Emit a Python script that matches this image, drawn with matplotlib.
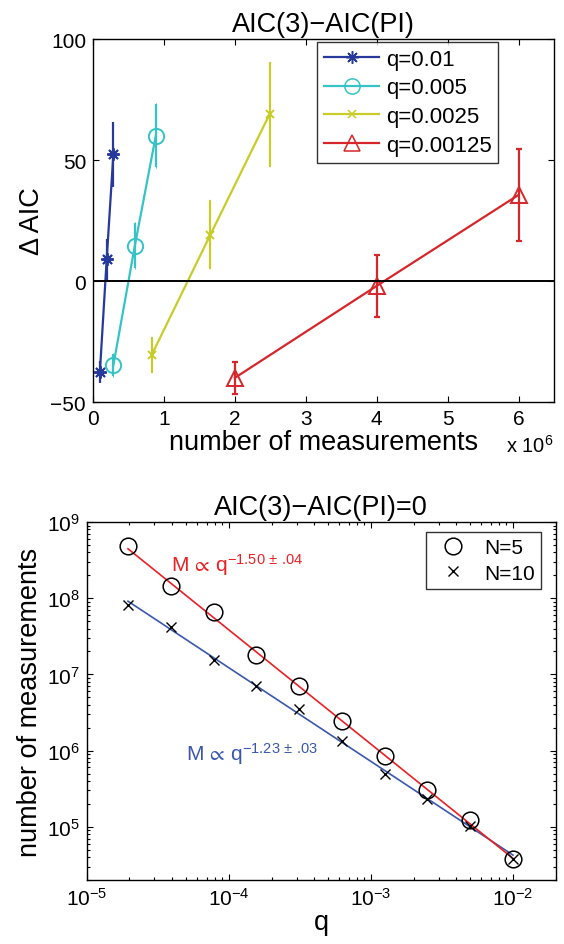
import numpy as np
import matplotlib
matplotlib.use("Agg")
import matplotlib.pyplot as plt
from matplotlib.lines import Line2D

plt.rcParams['font.family'] = ['Liberation Sans', 'DejaVu Sans']
plt.rcParams['mathtext.fontset'] = 'custom'
plt.rcParams['mathtext.rm'] = 'Liberation Sans'
plt.rcParams['mathtext.it'] = 'Liberation Sans:italic'
plt.rcParams['mathtext.fallback'] = 'stixsans'

# top panel: delta AIC vs number of measurements (x in units of 1e6)
q_labels = ['q=0.01', 'q=0.005', 'q=0.0025', 'q=0.00125']
meas_01 = [0.097, 0.193, 0.287]
daic_01 = [-37.6, 9.0, 52.3]
err_01 = [4.7, 8.5, 13.4]
meas_005 = [0.287, 0.59, 0.885]
daic_005 = [-34.8, 14.6, 60.0]
err_005 = [4.5, 9.2, 13.0]
meas_0025 = [0.828, 1.656, 2.489]
daic_0025 = [-30.5, 19.2, 68.9]
err_0025 = [7.0, 14.0, 21.3]
meas_00125 = [2.0, 4.0, 6.0]
daic_00125 = [-40.0, -2.0, 35.6]
err_00125 = [6.6, 12.8, 19.0]

# bottom panel: crossing point AIC(3)=AIC(PI)
q_vals = [0.01 / 2**k for k in range(10)]
m_n5 = [3.76e4, 1.24e5, 3.07e5, 8.4e5, 2.43e6, 7.1e6, 1.78e7, 6.6e7, 1.44e8, 4.9e8]
m_n10 = [3.76e4, 1.03e5, 2.31e5, 4.98e5, 1.33e6, 3.47e6, 7.1e6, 1.56e7, 4.24e7, 8.1e7]
fit_exp = [-1.50, -1.23]
fit_err = ['04', '03']
fit_at_001 = [3.85e4, 4.25e4]

blue = '#27399a'
cyan = '#35c3c6'
yellow = '#c8cc28'
red = '#d6262b'
fit_red = '#ec2024'
fit_blue = '#3a57ad'

fig = plt.figure(figsize=(5.64, 9.45), dpi=100)

# ---- top axes
ax1 = fig.add_axes([0.1649, 0.5735, 0.8174, 0.3841])
series = [
    (meas_01, daic_01, err_01, blue, (8, 2, 0), 9, 0.0),
    (meas_005, daic_005, err_005, cyan, 'o', 11, 0.3),
    (meas_0025, daic_0025, err_0025, yellow, 'x', 6, 0.9),
    (meas_00125, daic_00125, err_00125, red, '^', 12, 2.4),
]
handles = []
for (x, y, e, c, m, ms, cap), lab in zip(series, q_labels):
    ax1.errorbar(x, y, yerr=e, fmt='none', ecolor=c, elinewidth=1.6,
                 capsize=cap, capthick=1.6)
    ax1.plot(x, y, color=c, lw=1.6, marker=m, ms=ms, mfc='none', mec=c, mew=1.4)
    handles.append(Line2D([], [], color=c, lw=1.6, marker=m, ms=ms,
                          mfc='none', mec=c, mew=1.1))
ax1.axhline(0, color='k', lw=1.4)
ax1.set_xlim(0, 6.5)
ax1.set_ylim(-50, 100)
ax1.set_xticks([0, 1, 2, 3, 4, 5, 6])
ax1.set_yticks([-50, 0, 50, 100])
ax1.tick_params(direction='in', top=True, right=True, length=4, width=0.8,
                labelsize=15, pad=5)
ax1.set_title('AIC(3)\u2212AIC(PI)', fontsize=19.5, pad=6)
ax1.set_xlabel('number of measurements', fontsize=19.5, labelpad=1)
ax1.set_ylabel('\u0394 AIC', fontsize=19.5, labelpad=4)
ax1.text(0.895, -0.137, 'x 10$^{6}$', transform=ax1.transAxes, fontsize=14.5,
         va='baseline', ha='left')
leg1 = ax1.legend(handles, q_labels, loc='upper left', bbox_to_anchor=(0.486, 0.992),
                  borderaxespad=0, fontsize=16, frameon=True, fancybox=False,
                  handlelength=2.5, handletextpad=0.3, labelspacing=0.35,
                  borderpad=0.3)
leg1.get_frame().set_edgecolor('k')
leg1.get_frame().set_linewidth(1.0)
for s in ax1.spines.values():
    s.set_linewidth(1.0)

# ---- bottom axes
ax2 = fig.add_axes([0.1537, 0.0677, 0.8316, 0.3788])
qq = np.array([min(q_vals), max(q_vals)])
ax2.plot(qq, fit_at_001[0] * (qq / 0.01) ** fit_exp[0], color=fit_red, lw=1.2, zorder=2)
ax2.plot(qq, fit_at_001[1] * (qq / 0.01) ** fit_exp[1], color=fit_blue, lw=1.2, zorder=1)
ax2.plot(q_vals, m_n5, ls='none', marker='o', ms=12, mfc='none', mec='k', mew=1.1, zorder=3)
ax2.plot(q_vals, m_n10, ls='none', marker='x', ms=7.5, mec='k', mew=1.0, zorder=3)
ax2.set_xscale('log')
ax2.set_yscale('log')
ax2.set_xlim(1e-5, 2e-2)
ax2.set_ylim(2e4, 1e9)
ax2.tick_params(which='both', direction='in', top=True, right=True, width=0.8,
                labelsize=15, pad=5)
ax2.tick_params(which='major', length=4)
ax2.tick_params(which='minor', length=2)
ax2.set_title('AIC(3)\u2212AIC(PI)=0', fontsize=19.5, pad=6)
ax2.set_xlabel('q', fontsize=19.5, labelpad=0)
ax2.set_ylabel('number of measurements', fontsize=19.5, labelpad=3)
for (qx, my), ex, er, col in zip([(3.92e-5, 2.3e8), (5.02e-5, 7.6e5)], fit_exp, fit_err,
                                 [fit_red, fit_blue]):
    # "\!" cancels the space mathtext puts after a lone dot
    ax2.text(qx, my, r'M$\,\propto\,$q$^{%.2f\,\pm\,.\!%s}$' % (ex, er),
             color=col, fontsize=15, va='baseline')
h2 = [Line2D([], [], ls='none', marker='o', ms=12, mfc='none', mec='k', mew=1.1),
      Line2D([], [], ls='none', marker='x', ms=7.5, mec='k', mew=1.0)]
leg2 = ax2.legend(h2, ['N=5', 'N=10'], loc='upper left', bbox_to_anchor=(0.723, 0.972),
                  borderaxespad=0, fontsize=15, frameon=True, fancybox=False,
                  handlelength=2.0, handletextpad=0.5, labelspacing=0.3,
                  borderpad=0.3)
leg2.get_frame().set_edgecolor('k')
leg2.get_frame().set_linewidth(1.0)
for s in ax2.spines.values():
    s.set_linewidth(1.0)

fig.savefig('out.png', dpi=100)
